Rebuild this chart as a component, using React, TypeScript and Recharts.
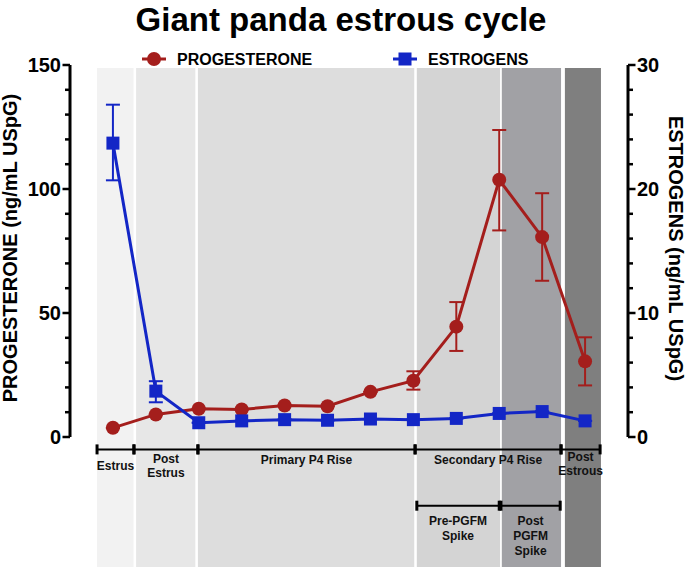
import React from 'react';
import { LineChart, Line, XAxis, YAxis, ErrorBar, ReferenceArea } from 'recharts';

// ---------- data ----------
const samplePoints = [1, 2, 3, 4, 5, 6, 7, 8, 9, 10, 11, 12];
const progesterone = [3.7, 9.1, 11.4, 11.1, 12.7, 12.4, 18.2, 22.7, 44.5, 103.7, 80.6, 30.5];
const progesteroneLower = [3.7, 9.1, 11.4, 11.1, 12.7, 12.4, 18.2, 19.1, 34.7, 83.3, 63.0, 20.8];
const progesteroneUpper = [3.7, 9.1, 11.4, 11.1, 12.7, 12.4, 18.2, 26.5, 54.4, 123.8, 98.3, 40.2];
const estrogens = [23.7, 3.7, 1.15, 1.3, 1.4, 1.35, 1.45, 1.4, 1.5, 1.9, 2.05, 1.3];
const estrogensLower = [20.7, 2.8, 1.15, 1.3, 1.4, 1.35, 1.45, 1.4, 1.5, 1.9, 2.05, 1.3];
const estrogensUpper = [26.8, 4.5, 1.15, 1.3, 1.4, 1.35, 1.45, 1.4, 1.5, 1.9, 2.05, 1.3];

const progesteroneTicks = [0, 10, 20, 30, 40, 50, 60, 70, 80, 90, 100, 110, 120, 130, 140, 150];
const estrogensTicks = [0, 2, 4, 6, 8, 10, 12, 14, 16, 18, 20, 22, 24, 26, 28, 30];

// background phase bands (in sample-index units)
const bandStart = [0.63, 1.54, 2.98, 8.08, 10.06, 11.53];
const bandEnd = [1.48, 2.92, 8.02, 10.02, 11.44, 12.37];

// phase brackets
const phaseLabels = [['Estrus'], ['Post', 'Estrus'], ['Primary P4 Rise'], ['Secondary P4 Rise'], ['Post', 'Estrous']];
const phaseStart = [0.63, 1.49, 2.98, 8.04, 11.44];
const phaseEnd = [1.49, 2.98, 8.04, 11.44, 12.35];
const subPhaseLabels = [['Pre-PGFM', 'Spike'], ['Post', 'PGFM', 'Spike']];
const subPhaseStart = [8.08, 10.04];
const subPhaseEnd = [10.0, 11.42];

// ---------- styles ----------
const FONT = '"Liberation Sans", Arial, Helvetica, sans-serif';
const RED = '#A41E1C';
const BLUE = '#1326C6';
const BAND_COLORS = ['#f2f2f2', '#e7e7e7', '#dddddd', '#d4d4d4', '#a1a1a5', '#7f7f7f'];
const PHASE_BRACKET_Y = -5; // left-axis units, below the plot
const SUB_BRACKET_Y = -27.7;
const PHASE_FIRST_BASELINE = [21, 13.5, 14.5, 14.5, 11.5];
const SUB_FIRST_BASELINE = 19.5;

const data = samplePoints.map((s, i) => ({
  x: s,
  prog: progesterone[i],
  progErr: [progesterone[i] - progesteroneLower[i], progesteroneUpper[i] - progesterone[i]],
  estr: estrogens[i],
  estrErr: [estrogens[i] - estrogensLower[i], estrogensUpper[i] - estrogens[i]],
}));

const LeftTick = (props: any) => {
  const { x, y, payload } = props;
  const major = payload.value % 50 === 0;
  const len = major ? 7.5 : 5;
  return (
    <g>
      <line x1={x} x2={x - len} y1={y} y2={y} stroke="#000" strokeWidth={2.5} />
      {major && (
        <text x={x - len - 1.5} y={y} dy="0.36em" textAnchor="end" fontSize={20} fontWeight="bold" fontFamily={FONT} fill="#000">
          {payload.value}
        </text>
      )}
    </g>
  );
};

const RightTick = (props: any) => {
  const { x, y, payload } = props;
  const major = payload.value % 10 === 0;
  const len = major ? 7.5 : 5;
  return (
    <g>
      <line x1={x} x2={x + len} y1={y} y2={y} stroke="#000" strokeWidth={2.5} />
      {major && (
        <text x={x + len + 1.5} y={y} dy="0.36em" textAnchor="start" fontSize={20} fontWeight="bold" fontFamily={FONT} fill="#000">
          {payload.value}
        </text>
      )}
    </g>
  );
};

const LeftTitle = () => (
  <text x={16.5} y={248} transform="rotate(-90 16.5 248)" textAnchor="middle" fontSize={20} fontWeight="bold" fontFamily={FONT} fill="#000">
    PROGESTERONE (ng/mL USpG)
  </text>
);

const RightTitle = () => (
  <text x={668.5} y={248.5} transform="rotate(90 668.5 248.5)" textAnchor="middle" fontSize={20} fontWeight="bold" fontFamily={FONT} fill="#000">
    ESTROGENS (ng/mL USpG)
  </text>
);

const makeBracket = (lines: string[], firstBaseline: number, lineGap: number) => (props: any) => {
  const { x, y, width } = props;
  const cx = x + width / 2;
  return (
    <g>
      <line x1={x} x2={x + width} y1={y} y2={y} stroke="#000" strokeWidth={2} />
      <line x1={x} x2={x} y1={y - 5} y2={y + 5} stroke="#000" strokeWidth={3} />
      <line x1={x + width} x2={x + width} y1={y - 5} y2={y + 5} stroke="#000" strokeWidth={3} />
      <text textAnchor="middle" fontSize={12} fontWeight="bold" fontFamily={FONT} fill="#111">
        {lines.map((l, i) => (
          <tspan key={i} x={cx} y={y + firstBaseline + i * lineGap}>
            {l}
          </tspan>
        ))}
      </text>
    </g>
  );
};

const CircleDot = (props: any) => {
  const { cx, cy, index } = props;
  if (cx == null || cy == null) return <g key={`c${index}`} />;
  return <circle key={`c${index}`} cx={cx} cy={cy} r={7} fill={RED} />;
};

const SquareDot = (props: any) => {
  const { cx, cy, index } = props;
  if (cx == null || cy == null) return <g key={`s${index}`} />;
  return <rect key={`s${index}`} x={cx - 6.5} y={cy - 6.5} width={13} height={13} fill={BLUE} />;
};

export default function App() {
  return (
    <div style={{ position: 'absolute', left: 0, top: 0, width: 685, height: 567, fontFamily: FONT, background: '#fff' }}>
      <LineChart width={685} height={567} data={data} margin={{ top: 65, right: 0, bottom: 130, left: 0 }}>
        <XAxis dataKey="x" type="number" domain={[0, 13]} hide xAxisId="x" />
        <YAxis
          yAxisId="left"
          orientation="left"
          width={70}
          domain={[0, 150]}
          ticks={progesteroneTicks}
          interval={0}
          tickSize={0}
          tickMargin={0}
          tickLine={false}
          axisLine={{ stroke: '#000', strokeWidth: 3 }}
          tick={(p: any) => <LeftTick {...p} />}
          allowDataOverflow
          label={<LeftTitle />}
        />
        <YAxis
          yAxisId="right"
          orientation="right"
          width={57}
          domain={[0, 30]}
          ticks={estrogensTicks}
          interval={0}
          tickSize={0}
          tickMargin={0}
          tickLine={false}
          axisLine={{ stroke: '#000', strokeWidth: 3 }}
          tick={(p: any) => <RightTick {...p} />}
          allowDataOverflow
          label={<RightTitle />}
        />
        {bandStart.map((s, i) => (
          <ReferenceArea
            key={`band${i}`}
            xAxisId="x"
            yAxisId="left"
            x1={s}
            x2={bandEnd[i]}
            y1={-53}
            y2={148.8}
            fill={BAND_COLORS[i]}
            fillOpacity={1}
            stroke="none"
            ifOverflow="visible"
          />
        ))}
        {phaseStart.map((s, i) => (
          <ReferenceArea
            key={`ph${i}`}
            xAxisId="x"
            yAxisId="left"
            x1={s}
            x2={phaseEnd[i]}
            y1={PHASE_BRACKET_Y - 10}
            y2={PHASE_BRACKET_Y}
            ifOverflow="visible"
            shape={makeBracket(phaseLabels[i], PHASE_FIRST_BASELINE[i], 14.5)}
          />
        ))}
        {subPhaseStart.map((s, i) => (
          <ReferenceArea
            key={`sub${i}`}
            xAxisId="x"
            yAxisId="left"
            x1={s}
            x2={subPhaseEnd[i]}
            y1={SUB_BRACKET_Y - 10}
            y2={SUB_BRACKET_Y}
            ifOverflow="visible"
            shape={makeBracket(subPhaseLabels[i], SUB_FIRST_BASELINE, 15)}
          />
        ))}
        <Line
          xAxisId="x"
          yAxisId="left"
          dataKey="prog"
          stroke={RED}
          strokeWidth={3}
          dot={(p: any) => <CircleDot key={`cd${p.index}`} {...p} />}
          activeDot={false}
          isAnimationActive={false}
        >
          <ErrorBar dataKey="progErr" direction="y" width={7} stroke={RED} strokeWidth={2} />
        </Line>
        <Line
          xAxisId="x"
          yAxisId="right"
          dataKey="estr"
          stroke={BLUE}
          strokeWidth={3}
          dot={(p: any) => <SquareDot key={`sd${p.index}`} {...p} />}
          activeDot={false}
          isAnimationActive={false}
        >
          <ErrorBar dataKey="estrErr" direction="y" width={7} stroke={BLUE} strokeWidth={2} />
        </Line>
      </LineChart>
      <svg width={685} height={80} style={{ position: 'absolute', left: 0, top: 0, pointerEvents: 'none' }}>
        <text x={341} y={30.5} textAnchor="middle" fontSize={33} fontWeight="bold" fontFamily={FONT} fill="#000">
          Giant panda estrous cycle
        </text>
        <line x1={142} x2={166} y1={59} y2={59} stroke={RED} strokeWidth={3} />
        <circle cx={154} cy={59} r={7} fill={RED} />
        <text x={177} y={64.5} fontSize={16} fontWeight="bold" fontFamily={FONT} fill="#000">
          PROGESTERONE
        </text>
        <line x1={393} x2={417} y1={59} y2={59} stroke={BLUE} strokeWidth={3} />
        <rect x={398.5} y={52.5} width={13} height={13} fill={BLUE} />
        <text x={428} y={64.5} fontSize={16} fontWeight="bold" fontFamily={FONT} fill="#000">
          ESTROGENS
        </text>
      </svg>
    </div>
  );
}
